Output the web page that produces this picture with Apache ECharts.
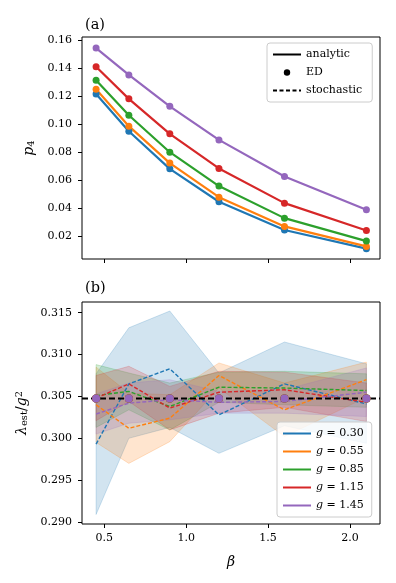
<!DOCTYPE html>
<html>
<head>
<meta charset="utf-8">
<script src="https://cdn.jsdelivr.net/npm/echarts@6/dist/echarts.min.js"></script>
<style>
  html, body { margin: 0; background: #fff; }
  #chart { width: 396px; height: 583px; }
</style>
</head>
<body>
<div id="chart"></div>
<script>
// shared x values (beta) and g labels
const betas = [0.45, 0.65, 0.9, 1.2, 1.6, 2.1]
const gValues = ['0.30', '0.55', '0.85', '1.15', '1.45']
const colors = ['#1f77b4', '#ff7f0e', '#2ca02c', '#d62728', '#9467bd']

// panel (a): p4 vs beta
const p4G030 = [0.1217, 0.0951, 0.0682, 0.0447, 0.0245, 0.0112]
const p4G055 = [0.1251, 0.0987, 0.0723, 0.0480, 0.0271, 0.0128]
const p4G085 = [0.1315, 0.1065, 0.0801, 0.0559, 0.0330, 0.0166]
const p4G115 = [0.1412, 0.1182, 0.0932, 0.0685, 0.0437, 0.0242]
const p4G145 = [0.1545, 0.1353, 0.1129, 0.0889, 0.0628, 0.0390]

// panel (b): stochastic estimate, mean and band
const lamG030 = [0.2993, 0.3065, 0.3083, 0.3028, 0.3065, 0.3041]
const lamG055 = [0.3040, 0.3012, 0.3024, 0.3075, 0.3034, 0.3070]
const lamG085 = [0.3051, 0.3056, 0.3038, 0.3061, 0.3060, 0.3057]
const lamG115 = [0.3048, 0.3065, 0.3036, 0.3055, 0.3058, 0.3043]
const lamG145 = [0.3029, 0.3042, 0.3046, 0.3043, 0.3044, 0.3055]

const lowG030 = [0.2909, 0.3000, 0.3013, 0.2982, 0.3015, 0.2994]
const highG030 = [0.3077, 0.3132, 0.3152, 0.3078, 0.3115, 0.3089]
const lowG055 = [0.2995, 0.2970, 0.2996, 0.3060, 0.3002, 0.3049]
const highG055 = [0.3085, 0.3054, 0.3052, 0.3090, 0.3066, 0.3091]
const lowG085 = [0.3013, 0.3034, 0.3010, 0.3043, 0.3040, 0.3037]
const highG085 = [0.3088, 0.3078, 0.3066, 0.3079, 0.3080, 0.3077]
const lowG115 = [0.3021, 0.3044, 0.3010, 0.3030, 0.3037, 0.3020]
const highG115 = [0.3075, 0.3086, 0.3062, 0.3080, 0.3079, 0.3066]
const lowG145 = [0.3005, 0.3018, 0.3022, 0.3030, 0.3030, 0.3026]
const highG145 = [0.3053, 0.3066, 0.3070, 0.3056, 0.3058, 0.3084]

const lamED = [0.30475, 0.30475, 0.30475, 0.30475, 0.30475, 0.30475]
const lamExact = 0.30475

// axis ranges and ticks
const xMin = 0.364
const xMax = 2.183
const xTicks = [0.5, 1.0, 1.5, 2.0]
const p4Ticks = [0.02, 0.04, 0.06, 0.08, 0.10, 0.12, 0.14, 0.16]
const lamTicks = [0.290, 0.295, 0.300, 0.305, 0.310, 0.315]

const p4All = [p4G030, p4G055, p4G085, p4G115, p4G145]
const lamAll = [lamG030, lamG055, lamG085, lamG115, lamG145]
const lowAll = [lowG030, lowG055, lowG085, lowG115, lowG145]
const highAll = [highG030, highG055, highG085, highG115, highG145]

const font = 'DejaVu Serif'
const chart = echarts.init(document.getElementById('chart'))

const series = []

// (a) analytic lines with ED dots
p4All.forEach((vals, i) => {
  series.push({
    type: 'line',
    xAxisIndex: 0,
    yAxisIndex: 0,
    data: betas.map((b, j) => [b, vals[j]]),
    symbol: 'circle',
    symbolSize: 7,
    showSymbol: true,
    lineStyle: { color: colors[i], width: 2.2 },
    itemStyle: { color: colors[i] },
    silent: true
  })
})

// legend-only series for panel (a)
series.push({ name: 'analytic', type: 'line', xAxisIndex: 0, yAxisIndex: 0, data: [], symbol: 'none', lineStyle: { color: '#000', width: 2 }, itemStyle: { color: '#000' } })
series.push({ name: 'ED', type: 'line', xAxisIndex: 0, yAxisIndex: 0, data: [], symbol: 'circle', lineStyle: { color: '#000' }, itemStyle: { color: '#000' } })
series.push({ name: 'stochastic', type: 'line', xAxisIndex: 0, yAxisIndex: 0, data: [], symbol: 'none', lineStyle: { color: '#000', width: 1.5, type: [4, 2.5] }, itemStyle: { color: '#000' } })

// (b) bands
function bandRenderer(lower, upper, color) {
  return function(params, api) {
    if (params.dataIndex !== 0) {
      return
    }
    const pts = []
    betas.forEach((b, j) => pts.push(api.coord([b, upper[j]])))
    for (let j = betas.length - 1; j >= 0; j--) {
      pts.push(api.coord([betas[j], lower[j]]))
    }
    return {
      type: 'polygon',
      shape: { points: pts },
      style: { fill: color, stroke: color, lineWidth: 1, opacity: 0.2 }
    }
  }
}
lowAll.forEach((low, i) => {
  series.push({
    type: 'custom',
    xAxisIndex: 1,
    yAxisIndex: 1,
    renderItem: bandRenderer(low, highAll[i], colors[i]),
    data: betas.map((b, j) => [b, low[j], highAll[i][j]]),
    encode: { x: 0, y: [1, 2] },
    silent: true,
    z: 1
  })
})

// (b) stochastic dashed lines
lamAll.forEach((vals, i) => {
  series.push({
    type: 'line',
    xAxisIndex: 1,
    yAxisIndex: 1,
    data: betas.map((b, j) => [b, vals[j]]),
    symbol: 'none',
    lineStyle: { color: colors[i], width: 1.4, type: [4, 2] },
    silent: true,
    z: 3
  })
})

// (b) exact value, full width
series.push({
  type: 'line',
  xAxisIndex: 1,
  yAxisIndex: 1,
  data: [[xMin, lamExact], [xMax, lamExact]],
  symbol: 'none',
  lineStyle: { color: '#000', width: 2, type: [6, 3] },
  silent: true,
  z: 4
})

// (b) ED dots
lamAll.forEach((vals, i) => {
  series.push({
    type: 'scatter',
    xAxisIndex: 1,
    yAxisIndex: 1,
    data: betas.map((b, j) => [b, lamED[j]]),
    symbolSize: 8,
    itemStyle: { color: colors[i], opacity: 1 },
    silent: true,
    z: 5
  })
})

// legend-only series for panel (b)
gValues.forEach((g, i) => {
  series.push({ name: 'g = ' + g, type: 'line', xAxisIndex: 1, yAxisIndex: 1, data: [], symbol: 'none', lineStyle: { color: colors[i], width: 2.2 }, itemStyle: { color: colors[i] } })
})

const axisCommon = {
  type: 'value',
  axisLine: { show: false },
  splitLine: { show: false },
  axisTick: { show: true, length: 4, lineStyle: { color: '#000', width: 1 } }
}
const labelStyle = { fontFamily: font, fontSize: 11, color: '#000' }

chart.setOption({
  animation: false,
  backgroundColor: '#fff',
  title: [
    { text: '(a)', left: 80, top: 13, textStyle: { fontFamily: font, fontSize: 14.5, fontWeight: 'normal', color: '#000' } },
    { text: '(b)', left: 80, top: 276, textStyle: { fontFamily: font, fontSize: 14.5, fontWeight: 'normal', color: '#000' } }
  ],
  grid: [
    { left: 82, right: 16, top: 37, height: 222, show: true, borderColor: '#000', borderWidth: 1, backgroundColor: 'transparent' },
    { left: 82, right: 16, top: 302, height: 222, show: true, borderColor: '#000', borderWidth: 1, backgroundColor: 'transparent' }
  ],
  xAxis: [
    Object.assign({}, axisCommon, {
      gridIndex: 0, min: xMin, max: xMax,
      axisTick: Object.assign({}, axisCommon.axisTick, { customValues: xTicks }),
      axisLabel: { show: false }
    }),
    Object.assign({}, axisCommon, {
      gridIndex: 1, min: xMin, max: xMax,
      axisTick: Object.assign({}, axisCommon.axisTick, { customValues: xTicks }),
      axisLabel: Object.assign({ customValues: xTicks, margin: 9, formatter: v => v.toFixed(1) }, labelStyle),
      name: 'β',
      nameLocation: 'middle',
      nameGap: 31,
      nameTextStyle: { fontFamily: font, fontSize: 14, fontStyle: 'italic', color: '#000' }
    })
  ],
  yAxis: [
    Object.assign({}, axisCommon, {
      gridIndex: 0, min: 0.0038, max: 0.1624,
      axisTick: Object.assign({}, axisCommon.axisTick, { customValues: p4Ticks }),
      axisLabel: Object.assign({ customValues: p4Ticks, margin: 10, formatter: v => v.toFixed(2) }, labelStyle),
      name: '{p|p}{s|4}',
      nameLocation: 'middle',
      nameRotate: 90,
      nameGap: 44,
      nameTextStyle: {
        align: 'center',
        verticalAlign: 'middle',
        lineHeight: 18,
        rich: {
          p: { fontFamily: font, fontSize: 14, fontStyle: 'italic', color: '#000', verticalAlign: 'middle', lineHeight: 14 },
          s: { fontFamily: font, fontSize: 10, color: '#000', verticalAlign: 'bottom', lineHeight: 10 }
        }
      }
    }),
    Object.assign({}, axisCommon, {
      gridIndex: 1, min: 0.28976, max: 0.31628,
      axisTick: Object.assign({}, axisCommon.axisTick, { customValues: lamTicks }),
      axisLabel: Object.assign({ customValues: lamTicks, margin: 10, formatter: v => v.toFixed(3) }, labelStyle),
      name: '{l|λ}{s|est}{n|/}{l|g}{t|2}',
      nameLocation: 'middle',
      nameRotate: 90,
      nameGap: 50,
      nameTextStyle: {
        align: 'center',
        verticalAlign: 'middle',
        lineHeight: 20,
        rich: {
          l: { fontFamily: font, fontSize: 14, fontStyle: 'italic', color: '#000', verticalAlign: 'middle', lineHeight: 15 },
          n: { fontFamily: font, fontSize: 14, color: '#000', verticalAlign: 'middle', lineHeight: 15 },
          s: { fontFamily: font, fontSize: 10, color: '#000', verticalAlign: 'bottom', lineHeight: 10 },
          t: { fontFamily: font, fontSize: 10, color: '#000', verticalAlign: 'top', lineHeight: 10 }
        }
      }
    })
  ],
  legend: [
    {
      orient: 'vertical',
      left: 267,
      top: 43,
      padding: [5, 10, 5, 5],
      itemWidth: 28,
      itemHeight: 8,
      itemGap: 5,
      borderColor: '#ccc',
      borderWidth: 1,
      borderRadius: 3,
      backgroundColor: 'rgba(255,255,255,0.8)',
      selectedMode: false,
      textStyle: { fontFamily: font, fontSize: 11, color: '#000', lineHeight: 13 },
      data: [
        { name: 'analytic', itemStyle: { opacity: 0 } },
        { name: 'ED', lineStyle: { opacity: 0 } },
        { name: 'stochastic', itemStyle: { opacity: 0 } }
      ]
    },
    {
      orient: 'vertical',
      left: 277,
      top: 422,
      padding: [5, 8, 5, 5],
      itemWidth: 28,
      itemHeight: 8,
      itemGap: 5,
      borderColor: '#ccc',
      borderWidth: 1,
      borderRadius: 3,
      backgroundColor: 'rgba(255,255,255,0.8)',
      selectedMode: false,
      textStyle: {
        fontFamily: font, fontSize: 11, color: '#000', lineHeight: 13,
        rich: { i: { fontFamily: font, fontSize: 11, fontStyle: 'italic', color: '#000' } }
      },
      formatter: name => '{i|g} = ' + name.slice(4),
      data: gValues.map(g => ({ name: 'g = ' + g, itemStyle: { opacity: 0 } }))
    }
  ],
  series: series
})
</script>
</body>
</html>
